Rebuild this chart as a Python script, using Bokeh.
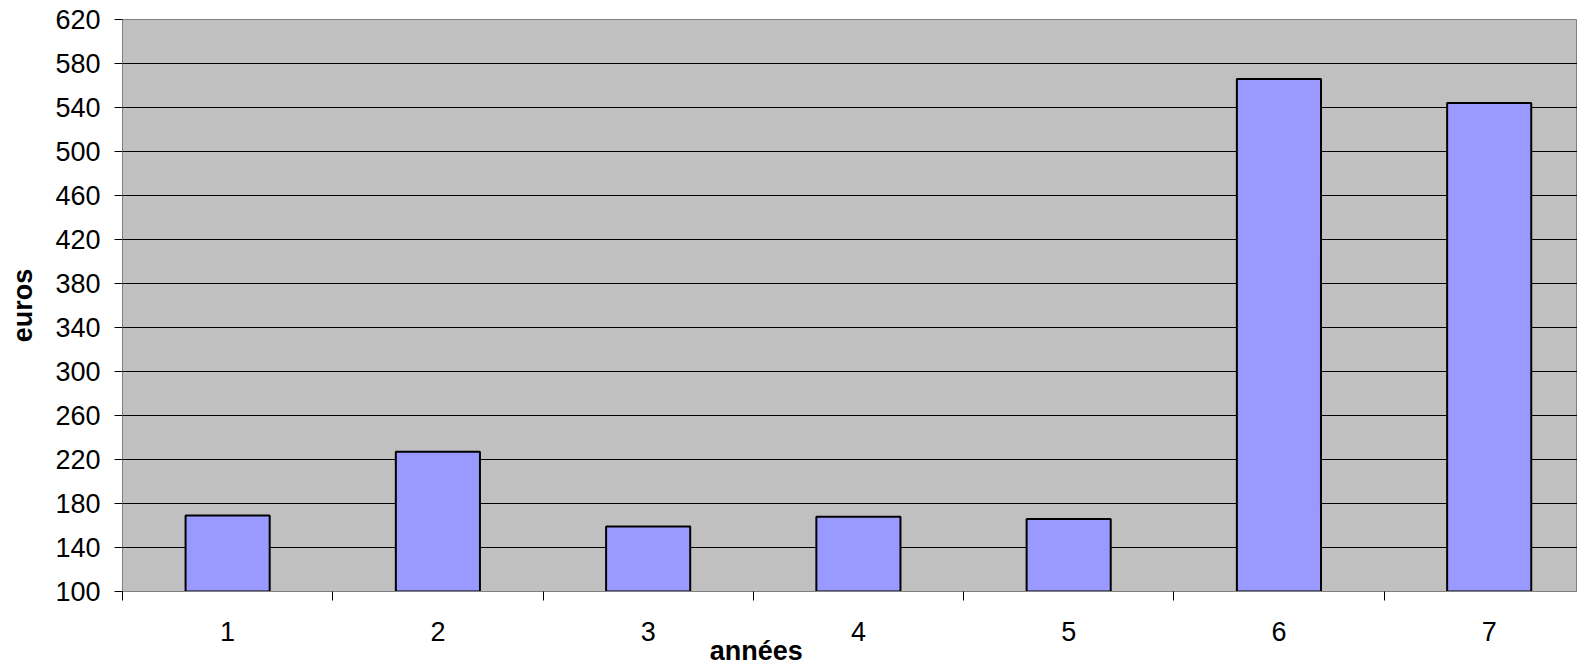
from bokeh.plotting import figure
from bokeh.models import FixedTicker, Range1d
from bokeh.embed import file_html
from bokeh.resources import INLINE

years = [1, 2, 3, 4, 5, 6, 7]
euros = [169, 227, 159, 168, 166, 566, 544]
y_ticks = list(range(100, 621, 40))
x_boundaries = [0.5, 1.5, 2.5, 3.5, 4.5, 5.5, 6.5, 7.5]
x_title = "années"
y_title = "euros"

FONT = "Liberation Sans"
NBSP = "\u00a0"

p = figure(width=1577, height=668, output_backend="svg", toolbar_location=None,
           x_range=Range1d(0.5, 7.42), y_range=Range1d(100, 620),
           min_border_left=122, min_border_right=0, min_border_top=19, min_border_bottom=70)

p.background_fill_color = "#C0C0C0"
p.border_fill_color = "white"
p.outline_line_color = "#808080"
p.outline_line_width = 1

p.vbar(x=years, top=euros, bottom=100, width=0.4,
       fill_color="#9999FF", line_color="black", line_width=2)

# y axis
p.yaxis.ticker = FixedTicker(ticks=y_ticks)
p.yaxis.axis_line_color = "#808080"
p.yaxis.major_tick_line_color = "black"
p.yaxis.major_tick_out = 8
p.yaxis.major_tick_in = 0
p.yaxis.minor_tick_line_color = None
p.yaxis.major_label_standoff = 14
p.yaxis.major_label_text_font = FONT
p.yaxis.major_label_text_font_size = "27px"
p.yaxis.major_label_text_color = "black"
p.yaxis.axis_label = y_title
p.yaxis.axis_label_text_font = FONT
p.yaxis.axis_label_text_font_size = "27px"
p.yaxis.axis_label_text_font_style = "bold"
p.yaxis.axis_label_text_color = "black"
p.yaxis.axis_label_standoff = 14

# x axis
p.xaxis.ticker = FixedTicker(ticks=years, minor_ticks=x_boundaries)
p.xaxis.axis_line_color = "#808080"
p.xaxis.major_tick_out = 0
p.xaxis.major_tick_in = 0
p.xaxis.minor_tick_line_color = "black"
p.xaxis.minor_tick_out = 9
p.xaxis.minor_tick_in = 0
p.xaxis.major_label_standoff = 21
p.xaxis.major_label_text_font = FONT
p.xaxis.major_label_text_font_size = "27px"
p.xaxis.major_label_text_color = "black"
# trailing no-break spaces shift the centred title to the left, as in the reference
p.xaxis.axis_label = x_title + NBSP * 25
p.xaxis.axis_label_text_font = FONT
p.xaxis.axis_label_text_font_size = "27px"
p.xaxis.axis_label_text_font_style = "bold"
p.xaxis.axis_label_text_color = "black"
p.xaxis.axis_label_standoff = -8

# grid
p.xgrid.grid_line_color = None
p.ygrid.ticker = FixedTicker(ticks=y_ticks)
p.ygrid.grid_line_color = "black"
p.ygrid.grid_line_width = 1

open("out.html", "w").write(file_html(p, INLINE))
